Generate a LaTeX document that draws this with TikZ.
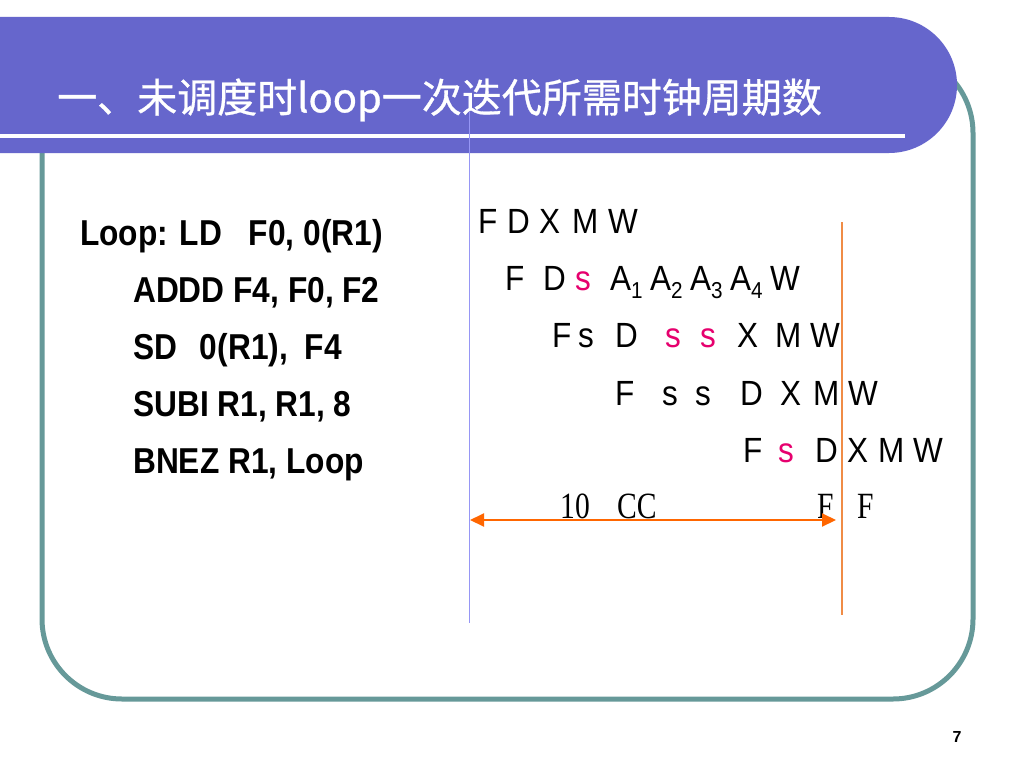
\documentclass[tikz,border=0pt]{standalone}
\usepackage{fontspec}
\usepackage{color}
\usetikzlibrary{arrows.meta}
\setmainfont{Liberation Sans}
\newfontfamily\titlefont{Noto Sans CJK SC}[FakeBold=0.8]
\newfontfamily\codefont{Liberation Sans}[FakeStretch=0.88]
\newfontfamily\stagefont{Liberation Sans}[FakeStretch=0.9]
\newfontfamily\ccfont{Liberation Serif}[FakeStretch=0.8]

\definecolor{bandblue}{RGB}{102,102,204}
\definecolor{frameteal}{RGB}{102,153,153}
\definecolor{stallpink}{RGB}{230,0,110}
\definecolor{ccorange}{RGB}{255,102,0}
\definecolor{markorange}{RGB}{240,140,70}
\definecolor{marklilac}{RGB}{150,150,245}

\newcommand\stgsub[1]{\raisebox{-8pt}{\fontsize{23}{23}\selectfont #1}}

\tikzset{
  codeline/.style={anchor=base west,inner sep=0pt,font=\codefont\bfseries\fontsize{36}{36}\selectfont},
  stage/.style={anchor=base west,inner sep=0pt,font=\stagefont\fontsize{35}{35}\selectfont},
  cclabel/.style={anchor=base west,inner sep=0pt,font=\ccfont\fontsize{37}{37}\selectfont},
}

\begin{document}
\begin{tikzpicture}[x=1pt,y=-1pt]
  \useasboundingbox (0,0) rectangle (1024,768);
  \begin{scope}
    \clip (0,0) rectangle (1024,768);
    \draw[fill=white,draw=none] (0,0) rectangle (1024,768);
    \draw[frameteal,line width=5pt,rounded corners=80pt] (42,53) rectangle (973,699);
    \draw[fill=bandblue,draw=none,rounded corners=68pt] (-120,17) rectangle (957,153);
    \draw[white,line width=4pt] (0,136) -- (905,136);
    \node[anchor=west,white,inner sep=0pt,font=\titlefont\fontsize{40}{40}\selectfont] (title) at (57,100) {一、未调度时loop一次迭代所需时钟周期数};

    % marker lines
    \coordinate (lilac-top) at (469,112);
    \coordinate (lilac-bot) at (469,623);
    \draw[marklilac,line width=1pt] (lilac-top) -- (lilac-bot);
    \coordinate (mark-top) at (842,222);
    \coordinate (mark-bot) at (842,615);
    \draw[markorange,line width=1.2pt] (mark-top) -- (mark-bot);

    % loop code
    \node[codeline] (ld) at (80,245) {Loop: LD\hspace{18pt} F0, 0(R1)};
    \node[codeline] (addd) at (133,302) {ADDD F4, F0, F2};
    \node[codeline] (sd) at (133,359) {SD\hspace{14pt} 0(R1),\hspace{8pt} F4};
    \node[codeline] (subi) at (133,416) {SUBI R1, R1, 8};
    \node[codeline] (bnez) at (133,473) {BNEZ R1, Loop};

    % pipeline stages
    \foreach \x/\t [count=\i] in {478/F,507/D,539/X,572/M,608/W}
      \node[stage] (row1-\i) at (\x,233) {\t};
    \foreach \x/\t [count=\i] in {505/F,543/D,575/{\color{stallpink}s},610/A\stgsub{1},650/A\stgsub{2},690/A\stgsub{3},730/A\stgsub{4},770/W}
      \node[stage] (row2-\i) at (\x,290) {\t};
    \foreach \x/\t [count=\i] in {552/F,578/s,615/D,665/{\color{stallpink}s},700/{\color{stallpink}s},737/X,775/M,810/W}
      \node[stage] (row3-\i) at (\x,347) {\t};
    \foreach \x/\t [count=\i] in {615/F,662/s,695/s,740/D,780/X,813/M,848/W}
      \node[stage] (row4-\i) at (\x,405) {\t};
    \foreach \x/\t [count=\i] in {743/F,778/{\color{stallpink}s},815/D,847/X,878/M,913/W}
      \node[stage] (row5-\i) at (\x,462) {\t};
    \foreach \x/\t [count=\i] in {560/10,617/CC,817/F,857/F}
      \node[cclabel] (row6-\i) at (\x,518) {\t};

    \coordinate (cc-left) at (470,520);
    \coordinate (cc-right) at (836,520);
    \draw[ccorange,line width=2pt,{Triangle[length=14pt,width=13pt]}-{Triangle[length=14pt,width=13pt]}] (cc-left) -- (cc-right);

    \node[font=\bfseries\fontsize{16}{16}\selectfont] (pagenum) at (957,737) {7};
  \end{scope}
\end{tikzpicture}
\end{document}
